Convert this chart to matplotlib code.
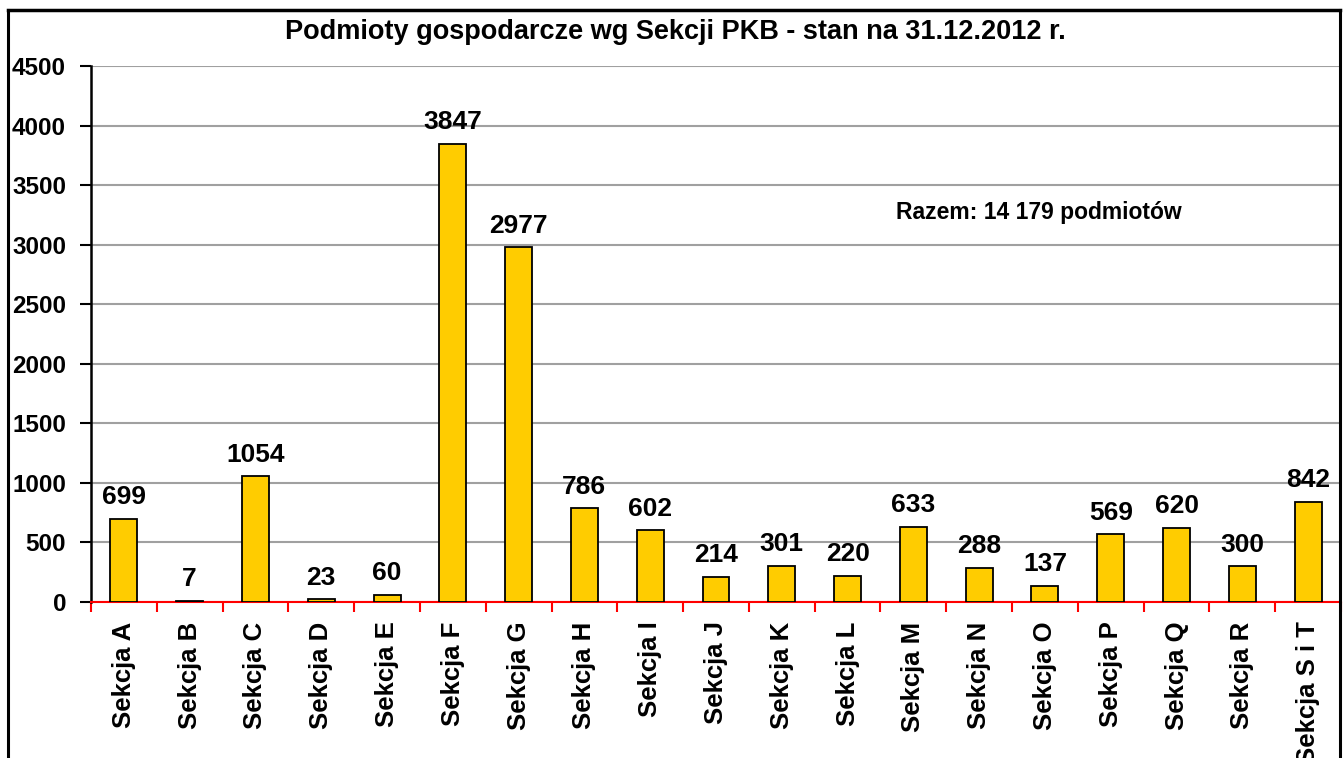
import matplotlib
matplotlib.use("Agg")
import matplotlib.pyplot as plt
from matplotlib.lines import Line2D
import numpy as np

plt.rcParams['font.family'] = ['Liberation Sans', 'DejaVu Sans']

categories = ["Sekcja A", "Sekcja B", "Sekcja C", "Sekcja D", "Sekcja E", "Sekcja F",
              "Sekcja G", "Sekcja H", "Sekcja I", "Sekcja J", "Sekcja K", "Sekcja L",
              "Sekcja M", "Sekcja N", "Sekcja O", "Sekcja P", "Sekcja Q", "Sekcja R",
              "Sekcja S i T"]
values = [699, 7, 1054, 23, 60, 3847, 2977, 786, 602, 214, 301, 220, 633, 288, 137,
          569, 620, 300, 842]
yticks = [0, 500, 1000, 1500, 2000, 2500, 3000, 3500, 4000, 4500]
title = "Podmioty gospodarcze wg Sekcji PKB - stan na 31.12.2012 r."
note = "Razem: 14 179 podmiotów"

W, H = 1343, 758
fig = plt.figure(figsize=(W / 100, H / 100), dpi=100)
ax = fig.add_axes([91 / W, 1 - 602 / H, (1341 - 91) / W, (602 - 66) / H])

x = np.arange(len(categories))
ax.bar(x, values, width=0.41, color="#FFCC00", edgecolor="black", linewidth=1.3, zorder=3)

for xi, v in zip(x, values):
    ax.annotate(str(v), (xi, v), xytext=(0, 7), textcoords="offset points",
                ha="center", va="bottom", fontsize=19, fontweight="bold")

ax.set_xlim(-0.5, len(categories) - 0.5)
ax.set_ylim(0, 4500)
ax.set_yticks(yticks)
ax.set_yticklabels([str(t) for t in yticks], fontsize=17.5, fontweight="bold")
ax.yaxis.grid(True, color="#a0a0a0", linewidth=1.5, zorder=0)
ax.set_axisbelow(True)

ax.set_xticks(x)
ax.set_xticklabels(categories, rotation=90, fontsize=18.5, fontweight="bold", va="top", ha="center")
ax.set_xticks(np.arange(-0.5, len(categories), 1.0), minor=True)
ax.tick_params(axis="x", which="major", length=0, pad=14)
ax.tick_params(axis="x", which="minor", length=7, width=1.5, color="red", direction="out")
ax.tick_params(axis="y", which="major", length=8, width=1.5, color="black", direction="out", pad=10)

for s in ["top", "right"]:
    ax.spines[s].set_visible(False)
ax.spines["left"].set_linewidth(1.8)
ax.spines["left"].set_color("black")
ax.spines["bottom"].set_linewidth(1.5)
ax.spines["bottom"].set_color("red")

fig.text(675 / W, 1 - 32 / H, title, ha="center", va="center", fontsize=19.5, fontweight="bold")
ax.text(1039 / W, 1 - 213 / H, note, transform=fig.transFigure, ha="center", va="center",
        fontsize=16.5, fontweight="bold")

# outer chart border
bx0, bx1, by = 7.5 / W, 1340 / W, 1 - 9.5 / H
fig.add_artist(Line2D([bx0, bx0], [0, by], transform=fig.transFigure, color="black", lw=2.2))
fig.add_artist(Line2D([bx1, bx1], [0, by], transform=fig.transFigure, color="black", lw=2.2))
fig.add_artist(Line2D([bx0, bx1], [by, by], transform=fig.transFigure, color="black", lw=2.5))

fig.savefig("out.png", dpi=100)
